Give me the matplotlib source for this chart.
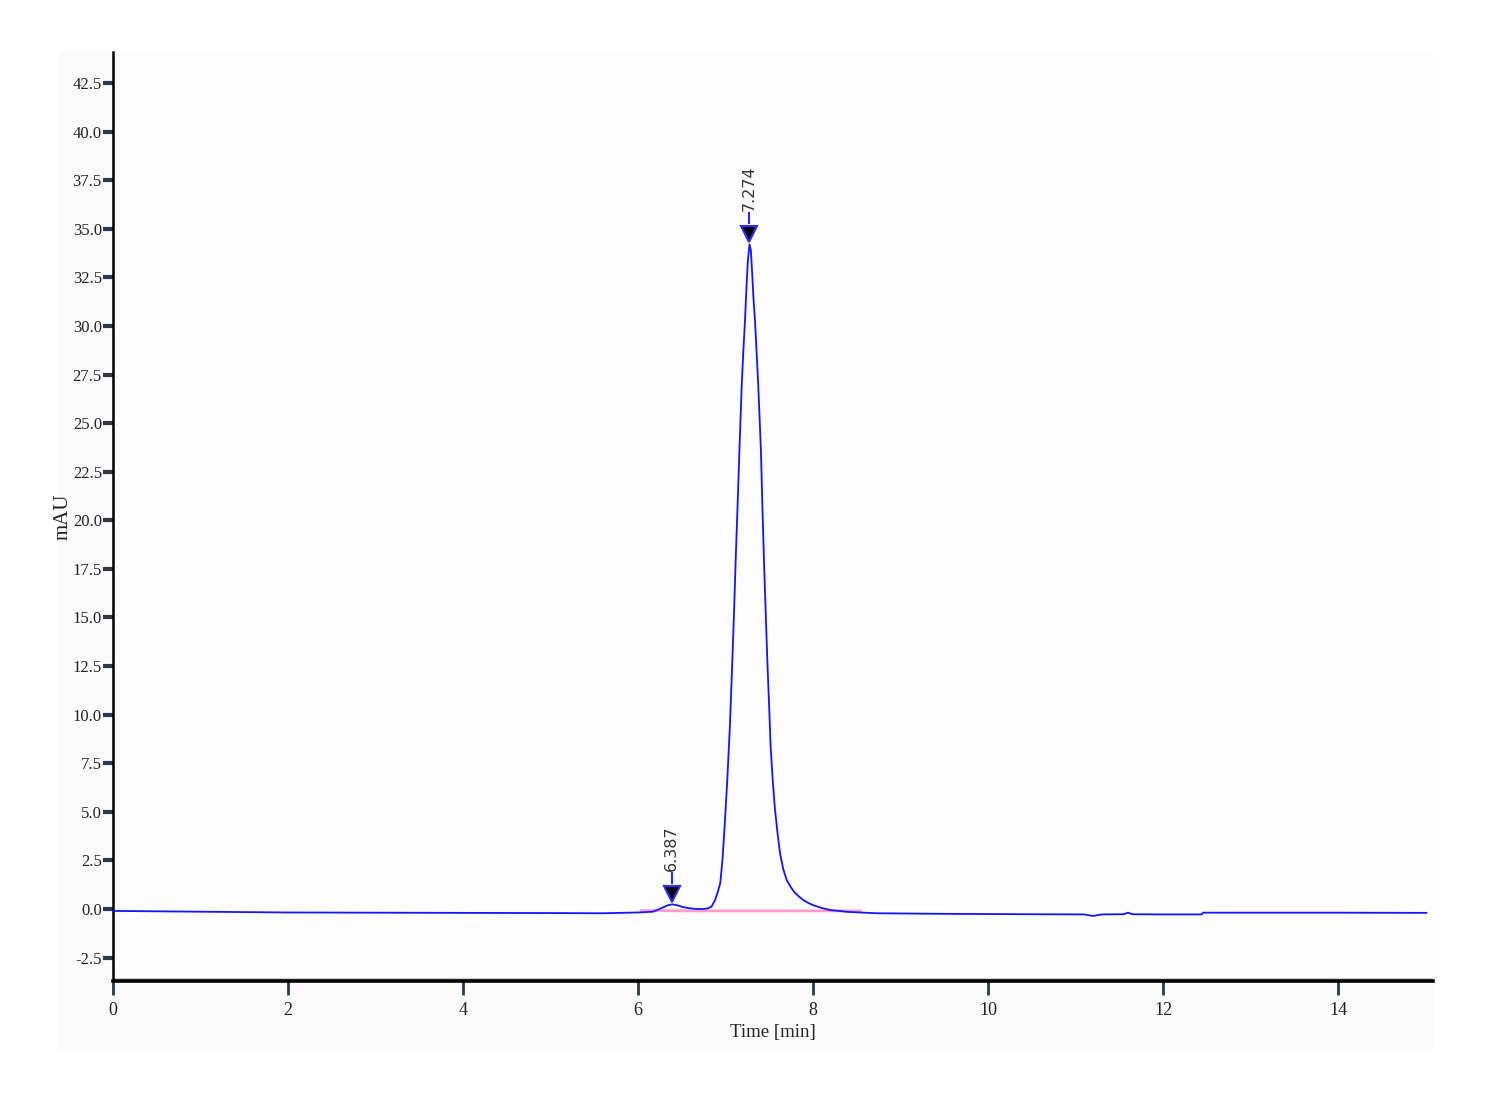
import matplotlib
matplotlib.use("Agg")
import matplotlib.pyplot as plt
from matplotlib.transforms import offset_copy
from matplotlib.patches import Rectangle

# ---- data ----
time_min = [0.0, 1.0, 2.0, 3.0, 4.0, 5.0, 5.6, 6.0, 6.17, 6.23, 6.29, 6.34, 6.39,
            6.45, 6.52, 6.6, 6.67, 6.75, 6.80, 6.84, 6.88, 6.91, 6.94, 6.965,
            6.99, 7.02, 7.05, 7.08, 7.10, 7.116, 7.14, 7.158, 7.185, 7.205, 7.223,
            7.24, 7.255, 7.274, 7.29, 7.305, 7.32, 7.337, 7.355, 7.375, 7.406,
            7.42, 7.44, 7.46, 7.478, 7.50, 7.516, 7.54, 7.566, 7.595, 7.623, 7.66,
            7.699, 7.75, 7.79, 7.84, 7.89, 7.95, 8.0, 8.1, 8.19, 8.4, 8.73, 9.5,
            10.5, 11.1, 11.2, 11.3, 11.55, 11.6, 11.65, 12.0, 12.44, 12.46, 13.0,
            14.0, 15.01]
signal_mau = [-0.10, -0.14, -0.18, -0.19, -0.20, -0.21, -0.22, -0.18, -0.14, -0.03,
              0.09, 0.19, 0.24, 0.19, 0.09, 0.03, 0.0, 0.0, 0.03, 0.12, 0.45, 0.85,
              1.32, 2.5, 4.24, 6.6, 9.38, 13.0, 15.6, 17.9, 21.0, 23.45, 26.9, 28.8,
              30.3, 32.0, 33.3, 34.2, 33.9, 32.7, 31.4, 30.3, 28.7, 26.9, 23.45,
              21.0, 17.9, 15.2, 12.8, 10.3, 8.35, 6.6, 5.1, 3.9, 2.87, 2.05, 1.49,
              1.1, 0.85, 0.64, 0.46, 0.3, 0.2, 0.05, -0.05, -0.15, -0.22, -0.25,
              -0.27, -0.28, -0.36, -0.28, -0.27, -0.19, -0.27, -0.28, -0.28, -0.19,
              -0.19, -0.19, -0.20]

peak_times = [6.387, 7.274]
peak_heights = [0.24, 34.2]
peak_labels = ["6.387", "7.274"]

# integration baselines (start, split, end) and level
baseline_t = [6.04, 6.67, 8.54]
baseline_y = [-0.08, -0.10, -0.10]

y_ticks = [-2.5, 0.0, 2.5, 5.0, 7.5, 10.0, 12.5, 15.0, 17.5, 20.0, 22.5, 25.0,
           27.5, 30.0, 32.5, 35.0, 37.5, 40.0, 42.5]
x_ticks = [0, 2, 4, 6, 8, 10, 12, 14]

# ---- figure ----
fig = plt.figure(figsize=(15, 11), dpi=100, facecolor="white")
fig.patches.append(Rectangle((58 / 1500, 1 - 1050 / 1100), (1433 - 58) / 1500,
                             (1050 - 52) / 1100, transform=fig.transFigure,
                             facecolor="#fbfbfb", edgecolor="none", zorder=-10))
ax = fig.add_axes([113 / 1500, 1 - 981 / 1100, (1433 - 113) / 1500, (981 - 52) / 1100])
ax.set_facecolor("#fdfdfd")

ax.set_xlim(0, 15.086)
ax.set_ylim(-3.706, 44.1)

# integration baseline (pink)
ax.plot(baseline_t, baseline_y, color="#ff9ccc", lw=2.0, zorder=2)
ax.plot([baseline_t[1], baseline_t[1]], [baseline_y[1], baseline_y[1] + 0.15],
        color="#ff9ccc", lw=1.0, zorder=2)

# trace
ax.plot(time_min, signal_mau, color="#1414ff", lw=1.3, zorder=3)

# peak markers
for t, h, lab in zip(peak_times, peak_heights, peak_labels):
    tr_m = offset_copy(ax.transData, fig=fig, x=0, y=10, units="dots")
    ax.plot([t], [h], marker="v", ms=12, mfc="black", mec="#2a2aff", mew=1.5,
            transform=tr_m, zorder=5, clip_on=False)
    tr_l = offset_copy(ax.transData, fig=fig, x=0, y=26, units="dots")
    ax.plot([t], [h], marker="|", ms=9, mec="#2a2aff", mew=1.5,
            transform=tr_l, zorder=5, clip_on=False)
    ax.annotate(lab, xy=(t, h), xytext=(0, 33 * 0.72), textcoords="offset points",
                rotation=90, ha="center", va="bottom", fontsize=11.5,
                family="DejaVu Sans", color="#333333")

# gray line just above the bottom axis
ax.axhline(-3.6, color="#c8c8c8", lw=2, zorder=1)

# spines
for s in ["top", "right"]:
    ax.spines[s].set_visible(False)
ax.spines["left"].set_linewidth(1.8)
ax.spines["bottom"].set_linewidth(2.6)
ax.spines["left"].set_color("black")
ax.spines["bottom"].set_color("black")

ax.set_yticks(y_ticks)
ax.set_yticklabels([f"{v:.1f}" for v in y_ticks])
ax.set_xticks(x_ticks)
ax.set_xticklabels([str(v) for v in x_ticks])

ax.tick_params(axis="y", direction="out", length=7, width=3, color="#2b3a4a",
               pad=1, labelsize=12, labelcolor="#222222")
ax.tick_params(axis="x", direction="out", length=10, width=2, color="#2b3a4a",
               pad=5, labelsize=13, labelcolor="#222222")
for lbl in ax.get_xticklabels() + ax.get_yticklabels():
    lbl.set_family("Liberation Serif")

ax.set_xlabel("Time [min]", family="Liberation Serif", fontsize=13.5, labelpad=4,
              color="#222222")
ax.set_ylabel("mAU", family="Liberation Serif", fontsize=15, color="#222222")
ax.yaxis.set_label_coords(-0.0305, 0.5)

fig.savefig("out.png", dpi=100, facecolor="white")
